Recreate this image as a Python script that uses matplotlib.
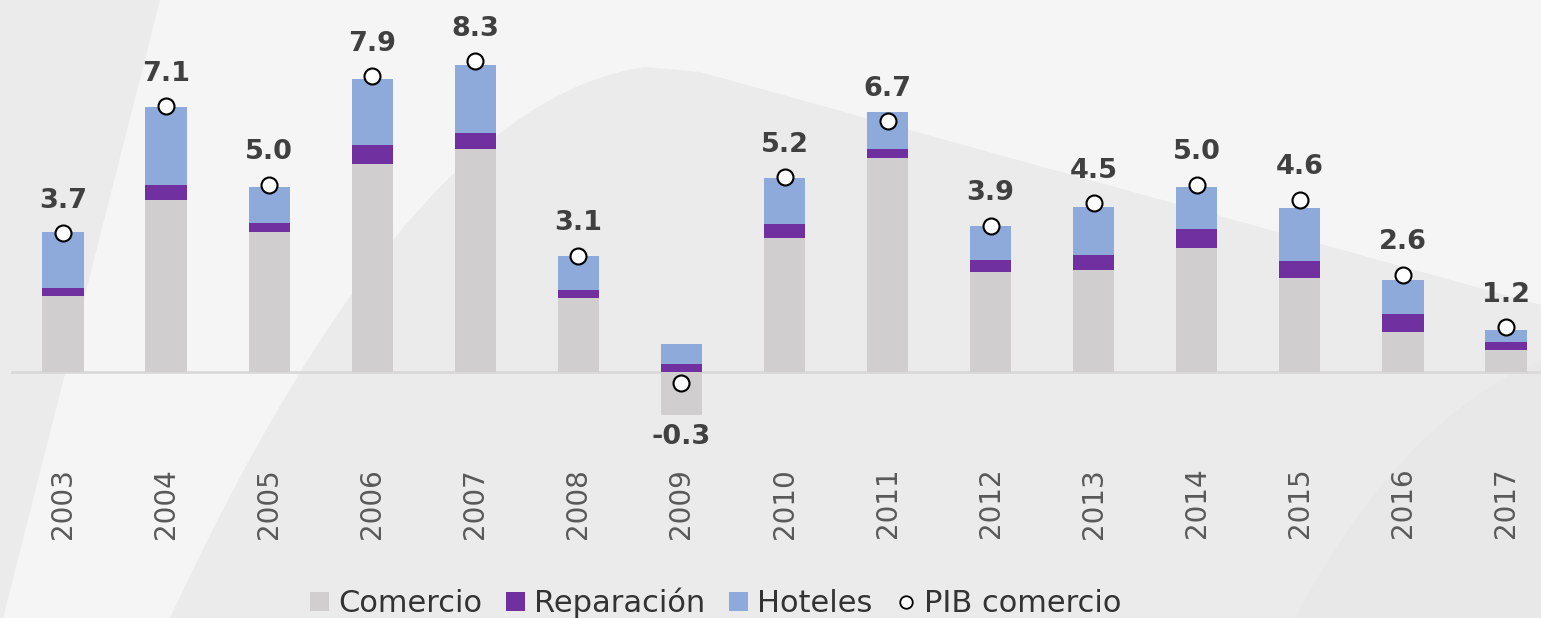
import numpy as np
import matplotlib.pyplot as plt
from matplotlib.path import Path
from matplotlib.patches import PathPatch, Patch, Polygon
from matplotlib.lines import Line2D

years = ['2003', '2004', '2005', '2006', '2007', '2008', '2009', '2010',
         '2011', '2012', '2013', '2014', '2015', '2016', '2017']
comercio = [2.03, 4.59, 3.74, 5.55, 5.95, 1.97, -1.16, 3.58, 5.71, 2.67, 2.72, 3.31, 2.51, 1.07, 0.59]
reparacion = [0.21, 0.40, 0.24, 0.51, 0.43, 0.21, 0.21, 0.37, 0.24, 0.32, 0.40, 0.51, 0.45, 0.48, 0.21]
hoteles = [1.49, 2.08, 0.96, 1.76, 1.81, 0.91, 0.53, 1.23, 0.99, 0.91, 1.28, 1.12, 1.41, 0.91, 0.32]
pib = [3.7, 7.1, 5.0, 7.9, 8.3, 3.1, -0.3, 5.2, 6.7, 3.9, 4.5, 5.0, 4.6, 2.6, 1.2]

c_com = '#d0cece'
c_rep = '#7030a0'
c_hot = '#8eaadb'

W, H = 1541, 618
fig = plt.figure(figsize=(W / 100, H / 100), dpi=100)
fig.patch.set_facecolor('#f5f5f5')

# decorative background
bg = fig.add_axes([0, 0, 1, 1], zorder=0)
bg.set_xlim(0, W)
bg.set_ylim(H, 0)
bg.axis('off')
bg.add_patch(Polygon([(0, 0), (160, 0), (3, 618), (0, 618)], closed=True,
                     facecolor='#ebebeb', edgecolor='none'))
verts = [(170, 618), (410, 100), (645, 67), (700, 72), (1541, 305), (1541, 618), (170, 618)]
codes = [Path.MOVETO, Path.CURVE3, Path.CURVE3, Path.LINETO, Path.LINETO, Path.LINETO, Path.CLOSEPOLY]
bg.add_patch(PathPatch(Path(verts, codes), facecolor='#ebebeb', edgecolor='none'))
verts2 = [(1295, 618), (1400, 420), (1541, 360), (1541, 618), (1295, 618)]
codes2 = [Path.MOVETO, Path.CURVE3, Path.CURVE3, Path.LINETO, Path.CLOSEPOLY]
bg.add_patch(PathPatch(Path(verts2, codes2), facecolor='#e8e8e8', edgecolor='none'))

# main chart
ax = fig.add_axes([11 / W, (H - 440) / H, 1530 / W, 440 / H], zorder=1)
ax.patch.set_alpha(0)
x = np.arange(len(years))
com = np.array(comercio)
rep = np.array(reparacion)
hot = np.array(hoteles)
base_rep = np.where(com > 0, com, 0)
width = 0.40
ax.bar(x, com, width, color=c_com, zorder=2)
ax.bar(x, rep, width, bottom=base_rep, color=c_rep, zorder=2)
ax.bar(x, hot, width, bottom=base_rep + rep, color=c_hot, zorder=2)
ax.axhline(0, color='#d9d9d9', lw=2, zorder=1)
ax.plot(x, pib, 'o', ms=11.5, mfc='white', mec='black', mew=1.5, zorder=4)

for xi, v in zip(x, pib):
    if v >= 0:
        ax.annotate(f'{v:.1f}', (xi, v), xytext=(0, 14), textcoords='offset points',
                    ha='center', va='bottom', fontsize=19.5, fontweight='bold', color='#404040')
    else:
        ax.annotate(f'{v:.1f}', (xi, v), xytext=(0, -29), textcoords='offset points',
                    ha='center', va='top', fontsize=19.5, fontweight='bold', color='#404040')

ax.set_xlim(-0.505, 14.34)
ax.set_ylim(-68 / 37.47, 372 / 37.47)
ax.set_xticks(x)
ax.set_xticklabels(years, rotation=90, fontsize=20, color='#595959')
ax.tick_params(axis='x', length=0, pad=20)
ax.set_yticks([])
for s in ax.spines.values():
    s.set_visible(False)

handles = [Patch(facecolor=c_com), Patch(facecolor=c_rep), Patch(facecolor=c_hot),
           Line2D([], [], ls='none', marker='o', ms=9, mfc='white', mec='black', mew=1.3)]
labels = ['Comercio', 'Reparación', 'Hoteles', 'PIB comercio']
fig.legend(handles, labels, loc='center', bbox_to_anchor=(716 / W, 1 - 603 / H), ncol=4,
           frameon=False, fontsize=22, handlelength=0.6, handleheight=0.6,
           handletextpad=0.3, columnspacing=0.8, labelcolor='#333333')

fig.savefig('out.png', dpi=100, facecolor=fig.get_facecolor())
